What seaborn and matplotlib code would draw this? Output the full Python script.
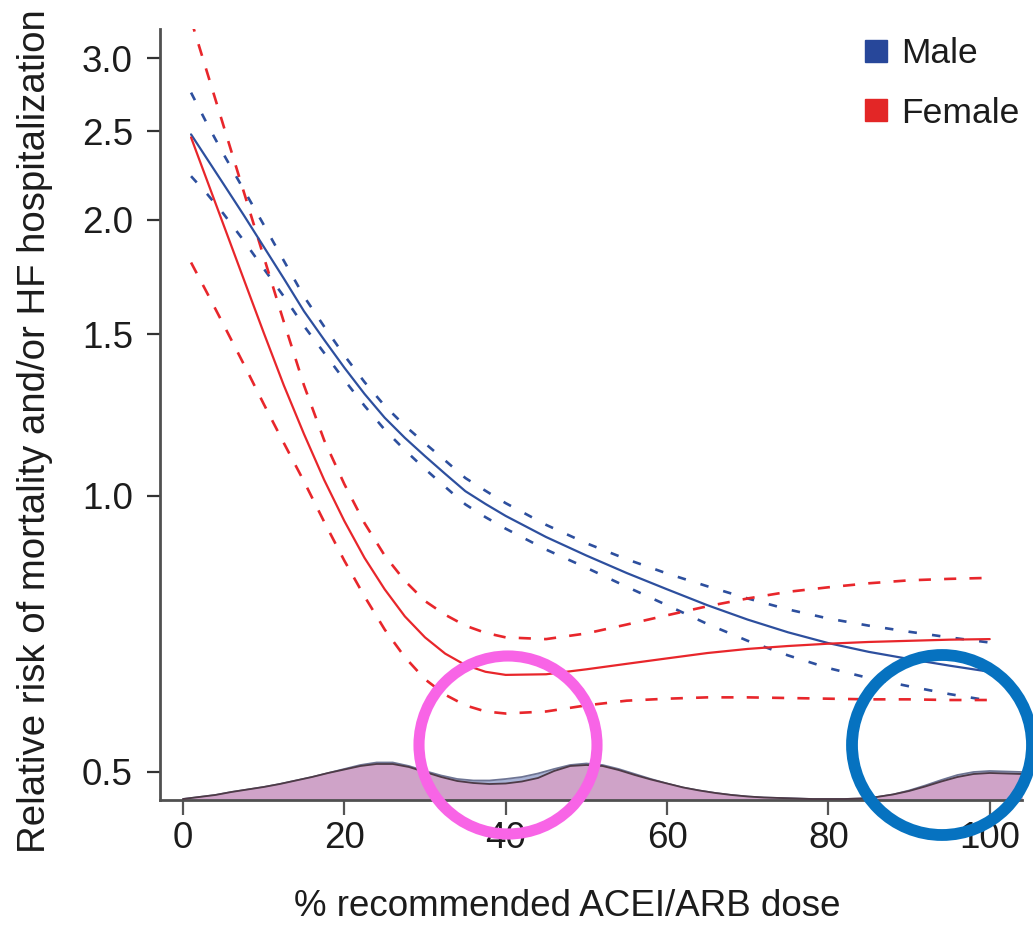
import numpy as np
import pandas as pd
import matplotlib
matplotlib.use("Agg")
import matplotlib.pyplot as plt
import seaborn as sns
from matplotlib.patches import Circle
from matplotlib.lines import Line2D
from matplotlib.ticker import NullLocator
from matplotlib.transforms import IdentityTransform

# ---------------- data ----------------
dose = [1, 3, 5, 7.5, 10, 12.5, 15, 17.5, 20, 22.5, 25, 27.5, 30, 32.5, 35, 37.5,
        40, 45, 50, 55, 60, 65, 70, 75, 80, 85, 90, 95, 100]

male_rr = [2.479, 2.330, 2.190, 2.026, 1.870, 1.726, 1.590, 1.480, 1.380, 1.292,
           1.217, 1.157, 1.105, 1.057, 1.012, 0.980, 0.951, 0.902, 0.861, 0.824,
           0.791, 0.760, 0.733, 0.710, 0.691, 0.676, 0.664, 0.653, 0.643]
male_hi = [2.753, 2.544, 2.361, 2.160, 1.976, 1.805, 1.650, 1.530, 1.423, 1.331,
           1.254, 1.193, 1.141, 1.093, 1.046, 1.013, 0.982, 0.930, 0.888, 0.853,
           0.823, 0.797, 0.773, 0.752, 0.735, 0.722, 0.711, 0.701, 0.692]
male_lo = [2.232, 2.134, 2.032, 1.900, 1.770, 1.650, 1.532, 1.432, 1.338, 1.254,
           1.181, 1.122, 1.070, 1.023, 0.979, 0.948, 0.921, 0.874, 0.835, 0.796,
           0.760, 0.725, 0.695, 0.670, 0.649, 0.633, 0.620, 0.608, 0.598]

female_rr = [2.460, 2.206, 1.978, 1.726, 1.507, 1.320, 1.168, 1.041, 0.939, 0.856,
             0.791, 0.739, 0.701, 0.673, 0.654, 0.643, 0.638, 0.639, 0.647, 0.656,
             0.665, 0.674, 0.681, 0.686, 0.690, 0.693, 0.695, 0.697, 0.698]
female_hi = [3.304, 2.895, 2.537, 2.151, 1.824, 1.548, 1.320, 1.150, 1.030, 0.934,
             0.861, 0.808, 0.768, 0.742, 0.722, 0.709, 0.701, 0.698, 0.708, 0.724,
             0.741, 0.758, 0.773, 0.786, 0.795, 0.803, 0.809, 0.812, 0.814]
female_lo = [1.797, 1.664, 1.539, 1.394, 1.260, 1.142, 1.037, 0.937, 0.850, 0.777,
             0.715, 0.667, 0.631, 0.607, 0.591, 0.582, 0.579, 0.582, 0.591, 0.598,
             0.601, 0.603, 0.603, 0.602, 0.601, 0.600, 0.600, 0.599, 0.599]

# distribution of doses (arbitrary density units)
dens_dose = [0, 2, 4, 6, 8, 10, 12, 14, 16, 18, 20, 22, 24, 26, 28, 30, 32, 34, 36,
             38, 40, 42, 44, 46, 48, 50, 52, 54, 56, 58, 60, 62, 64, 66, 68, 70, 72,
             74, 76, 78, 80, 82, 84, 86, 88, 90, 92, 94, 96, 98, 100, 102, 104]
dens_male = [1, 3, 5, 8, 10.5, 13, 16, 19.5, 23, 27, 31, 35, 37.5, 37.5, 34, 29,
             24.5, 21, 19.5, 19.5, 21, 23, 26.5, 31, 35, 36.5, 35, 31, 26, 21, 16.5,
             12.5, 9.5, 7, 5, 3.5, 2.5, 2, 1.5, 1, 1, 1, 1.5, 3, 5.5, 9.5, 14.5, 20,
             25, 28, 29, 28.5, 28]
dens_female = [1, 3, 5, 8, 10.5, 13, 16, 19.5, 23, 27, 30.5, 34, 36, 36, 33, 28,
               23, 19, 17, 16, 16.5, 18.5, 22, 29, 34, 35, 34, 30, 25, 20.5, 16.5,
               12.5, 9.5, 7, 5, 3.5, 2.5, 2, 1.5, 1, 1, 1, 1.5, 3, 5.5, 9, 13.5, 18.5,
               23, 26, 27, 26.5, 26]

yticks = [0.5, 1.0, 1.5, 2.0, 2.5, 3.0]
ytick_labels = ["0.5", "1.0", "1.5", "2.0", "2.5", "3.0"]
xticks = [0, 20, 40, 60, 80, 100]
sex_labels = ["Male", "Female"]
xlabel = "% recommended ACEI/ARB dose"
ylabel = "Relative risk of mortality and/or HF hospitalization"

# ---------------- style ----------------
sns.set_style("ticks")
plt.rcParams["font.family"] = ["Liberation Sans", "DejaVu Sans"]
TXT = "#1c1c1c"
BLUE = "#2d4f9e"
RED = "#e8262b"

W, H = 1033, 926
fig = plt.figure(figsize=(W / 100, H / 100), dpi=100)
ax = fig.add_axes([160 / W, 126 / H, 862 / W, 771 / H])

# density at the bottom (x in data, y in axes fraction)
trans = ax.get_xaxis_transform()
dscale = 1.0 / 771
ax.fill_between(dens_dose, 0, np.array(dens_male) * dscale, transform=trans,
                color="#a9b3d6", lw=0, zorder=1)
ax.plot(dens_dose, np.array(dens_male) * dscale, transform=trans,
        color="#6e7594", lw=1.3, zorder=2)
ax.fill_between(dens_dose, 0, np.array(dens_female) * dscale, transform=trans,
                color="#cfa3c8", lw=0, zorder=2)
ax.plot(dens_dose, np.array(dens_female) * dscale, transform=trans,
        color="#4e3a46", lw=1.3, zorder=3)

series = [
    (male_hi, BLUE, "dash_b"), (male_lo, BLUE, "dash_b"), (male_rr, BLUE, "solid"),
    (female_hi, RED, "dash_r"), (female_lo, RED, "dash_r"), (female_rr, RED, "solid"),
]
for vals, col, st in series:
    df = pd.DataFrame({"dose": dose, "rr": vals})
    if st == "solid":
        sns.lineplot(data=df, x="dose", y="rr", ax=ax, color=col, lw=1.6,
                     estimator=None, zorder=5)
    elif st == "dash_b":
        sns.lineplot(data=df, x="dose", y="rr", ax=ax, color=col, lw=1.9,
                     ls=(0, (3.2, 5.8)), estimator=None, zorder=4)
    else:
        sns.lineplot(data=df, x="dose", y="rr", ax=ax, color=col, lw=1.9,
                     ls=(0, (4.6, 5.0)), estimator=None, zorder=4)

ax.set_yscale("log")
ax.set_xlim(-2.85, 104)
ax.set_ylim(0.466, 3.23)
ax.set_yticks(yticks)
ax.set_yticklabels(ytick_labels)
ax.yaxis.set_minor_locator(NullLocator())
ax.set_xticks(xticks)
ax.set_xticklabels([str(t) for t in xticks])

sns.despine(ax=ax)
for s in ["left", "bottom"]:
    ax.spines[s].set_color("#505050")
    ax.spines[s].set_linewidth(2.0)
ax.tick_params(axis="y", length=9.5, width=1.6, color="#333333", pad=10,
               labelsize=26.5, labelcolor=TXT)
ax.tick_params(axis="x", length=10.5, width=1.6, color="#555555", pad=4.5,
               labelsize=26.5, labelcolor=TXT)

ax.set_xlabel(xlabel, fontsize=26.5, color=TXT)
ax.xaxis.set_label_coords(0.473, -0.115)
ax.set_ylabel(ylabel, fontsize=27.6, color=TXT)
ax.yaxis.set_label_coords(-0.124, 0.479)

handles = [Line2D([], [], ls="none", marker="s", markersize=16.5,
                  markerfacecolor=c, markeredgecolor=c)
           for c in ["#27479a", "#e32626"]]
fig.legend(handles, sex_labels, loc="upper left",
           bbox_to_anchor=(830 / W, 1 - 5.5 / H), frameon=False,
           fontsize=25.5, handlelength=0.8, handletextpad=0.3,
           labelspacing=0.74, labelcolor=TXT)

# highlight circles
fig.add_artist(Circle((508, H - 745), 89, transform=IdentityTransform(),
                      fill=False, ec="#f864e6", lw=8.0, zorder=10))
fig.add_artist(Circle((942, H - 745), 90, transform=IdentityTransform(),
                      fill=False, ec="#0672c0", lw=8.5, zorder=10))

fig.savefig("out.png", dpi=100)
